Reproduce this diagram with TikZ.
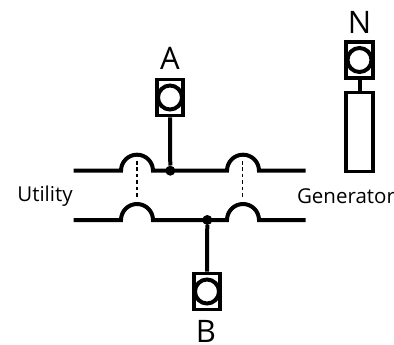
\documentclass[tikz,border=0pt]{standalone}
\usepackage{fontspec}
\setmainfont{Open Sans}
\tikzset{
  wire/.style={line width=4pt,black},
  link/.style={line width=1.8pt,dash pattern=on 3.6pt off 2.8pt,black},
  termbox/.style={draw=black,line width=3.8pt,fill=white,minimum width=26.5pt,minimum height=36pt,inner sep=0pt},
  termring/.style={circle,draw=black,line width=4pt,fill=white,minimum size=24pt,inner sep=0pt},
  joint/.style={circle,fill=black,minimum size=10pt,inner sep=0pt},
  big/.style={font=\fontsize{31}{31}\selectfont,inner sep=0pt,text=black},
  small/.style={font=\fontsize{20.5}{20.5}\selectfont,inner sep=0pt,text=black},
  genbox/.style={draw=black,line width=3.8pt,fill=white,minimum width=27pt,minimum height=79pt,inner sep=0pt}
}
\begin{document}
\begin{tikzpicture}[x=1pt,y=-1pt]
\useasboundingbox (0,0) rectangle (394,345);
% coordinates
\coordinate (t0) at (73.5,170.7);
\coordinate (t1) at (121,170.7);
\coordinate (t3) at (227,170.7);
\coordinate (t5) at (305.7,170.7);
\coordinate (b0) at (73.5,220);
\coordinate (b1) at (121,220);
\coordinate (b3) at (227,220);
\coordinate (b5) at (305.7,220);
\coordinate (l1) at (137,161);
\coordinate (l2) at (137,199);
\coordinate (l3) at (242.5,161);
\coordinate (l4) at (242.5,199);
% dashed links
\draw[link] (l1) -- (l2);
\draw[link] (l3) -- (l4);
% buses
\draw[wire] (t0) -- (t1) arc[start angle=180,end angle=360,radius=16] -- (t3) arc[start angle=180,end angle=360,radius=16] -- (t5);
\draw[wire] (b0) -- (b1) arc[start angle=180,end angle=360,radius=16] -- (b3) arc[start angle=180,end angle=360,radius=16] -- (b5);
% joints
\node[joint] (ja) at (170.3,170.7) {};
\node[joint] (jb) at (207.3,220) {};
% terminals
\node[termbox] (boxa) at (170,97.5) {};
\node[termring] (ringa) at (170,97.5) {};
\node[termbox] (boxb) at (207,291.5) {};
\node[termring] (ringb) at (207,291.5) {};
\node[termbox] (boxn) at (359.5,60) {};
\node[termring] (ringn) at (359.5,60) {};
\node[genbox] (gen) at (359.5,132) {};
\draw[wire] (boxa.south) -- (ja);
\draw[wire] (jb) -- (boxb.north);
\draw[wire] (boxn.south) -- (gen.north);
% labels
\node[big] (la) at (170,58.5) {A};
\node[big] (lb) at (206,331) {B};
\node[big] (ln) at (359.5,22.5) {N};
\node[small] (lu) at (45,196) {Utility};
\node[small] (lg) at (346,196) {Generator};
\end{tikzpicture}
\end{document}
